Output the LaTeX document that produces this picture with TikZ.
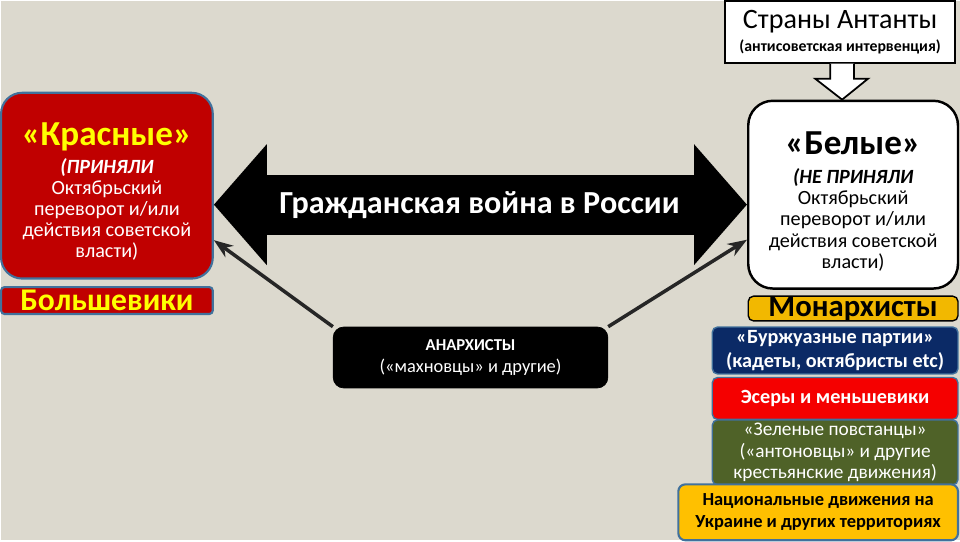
\documentclass[tikz,border=0pt]{standalone}
\usepackage{fontspec}
\setmainfont{Carlito}
\usetikzlibrary{arrows.meta}

\definecolor{bgbeige}{HTML}{DCD9CE}
\definecolor{redfill}{HTML}{C00000}
\definecolor{blueedge}{HTML}{41719C}
\definecolor{titleyellow}{HTML}{FFFF00}
\definecolor{goldfill}{HTML}{F2B800}
\definecolor{yellowfill}{HTML}{FFC000}
\definecolor{navyfill}{HTML}{0B2A66}
\definecolor{brightred}{HTML}{F50000}
\definecolor{olivefill}{HTML}{4F6228}
\definecolor{arrowgray}{HTML}{262626}

\tikzset{
	box/.style={draw, inner sep=0pt, align=center},
	stackbox/.style={box, rounded corners=3pt, line width=0.8pt, minimum width=4.92cm},
	thinarrow/.style={draw=arrowgray, line width=2pt, -{Stealth[length=11pt,width=8pt]}}
}

\begin{document}
\begin{tikzpicture}[x=0.02cm,y=-0.02cm]
	%background
		\fill[bgbeige] (0,0) rectangle (960,540);
	%Entente + block arrow
		\node[box, fill=white, line width=1pt, minimum width=4.6cm, minimum height=1.24cm] (entente) at (840,31)
			{{\fontsize{16}{18}\selectfont Страны Антанты}\\[1pt]{\fontsize{9}{10}\selectfont\bfseries (антисоветская интервенция)}};
		\draw[fill=white, line width=1pt, shift={(entente.south)}] (-10,0) -- (-10,15) -- (-25,15) -- (2,36) -- (28,15) -- (14,15) -- (14,0);
	%reds
		\node[box, fill=redfill, draw=blueedge, line width=1.2pt, rounded corners=12pt, text=white, minimum width=4.24cm, minimum height=3.72cm,
			font=\fontsize{11.5}{12}\selectfont] (red) at (106,185)
			{\rule{0pt}{20pt}{\fontsize{20}{22}\selectfont\bfseries\color{titleyellow}«Красные»}\\[4pt]
			{\bfseries\itshape (ПРИНЯЛИ}\\Октябрьский\\переворот и/или\\действия советской\\власти)};
		\node[box, fill=redfill, draw=blueedge, line width=1.2pt, rounded corners=2pt, text=titleyellow, minimum width=4.24cm, minimum height=0.54cm,
			font=\fontsize{18}{19}\selectfont\bfseries] (bolsh) at (106,300) {Большевики};
	%whites
		\node[box, fill=white, line width=1.4pt, rounded corners=14pt, minimum width=4.2cm, minimum height=3.76cm,
			font=\fontsize{11.5}{12.2}\selectfont] (white) at (853,194)
			{\rule{0pt}{21pt}{\fontsize{20}{22}\selectfont\bfseries «Белые»}\\[4pt]
			{\bfseries\itshape (НЕ ПРИНЯЛИ}\\Октябрьский\\переворот и/или\\действия советской\\власти)};
		\node[box, fill=goldfill, line width=0.8pt, rounded corners=3pt, minimum width=4.2cm, minimum height=0.48cm,
			font=\fontsize{17.5}{18}\selectfont\bfseries] (monarch) at (853,308) {Монархисты};
	%civil war arrow
		\coordinate (mid) at (479,204);
		\draw[line width=1.2cm, {Triangle[length=1.06cm,width=2.36cm]}-{Triangle[length=1.06cm,width=2.36cm]}] (red.east |- mid) -- (white.west |- mid);
		\node[text=white, font=\fontsize{18.3}{19}\selectfont\bfseries] (war) at (mid) {Гражданская война в России};
	%anarchists
		\node[box, fill=black, rounded corners=6pt, text=white, minimum width=5.5cm, minimum height=1.22cm,
			font=\fontsize{10.5}{13}\selectfont] (anarch) at (470,357) {{\fontsize{9.5}{11}\selectfont\bfseries АНАРХИСТЫ}\\(«махновцы» и другие)};
		\draw[thinarrow] (anarch.north west) -- (red.-27);
		\draw[thinarrow] (anarch.north east) -- (white.203);
	%white stack
		\node[stackbox, fill=navyfill, draw=blueedge, text=white, minimum height=0.94cm,
			font=\fontsize{11.5}{13.5}\selectfont\bfseries] (bourg) at (835,350) {«Буржуазные партии»\\(кадеты, октябристы etc)};
		\node[stackbox, fill=brightred, draw=blueedge, text=white, minimum height=0.84cm,
			font=\fontsize{11.5}{13}\selectfont\bfseries] (esers) at (835,398) {Эсеры и меньшевики};
		\node[stackbox, fill=olivefill, draw=blueedge, text=white, minimum height=1.3cm,
			font=\fontsize{11}{12}\selectfont] (greens) at (835,452) {«Зеленые повстанцы»\\(«антоновцы» и другие\\крестьянские движения)};
		\node[box, fill=yellowfill, draw=blueedge, line width=1.2pt, rounded corners=4pt, minimum width=5.6cm, minimum height=1.12cm,
			font=\fontsize{10.5}{12.5}\selectfont\bfseries] (nation) at (818,512) {Национальные движения на\\Украине и других территориях};
\end{tikzpicture}
\end{document}
